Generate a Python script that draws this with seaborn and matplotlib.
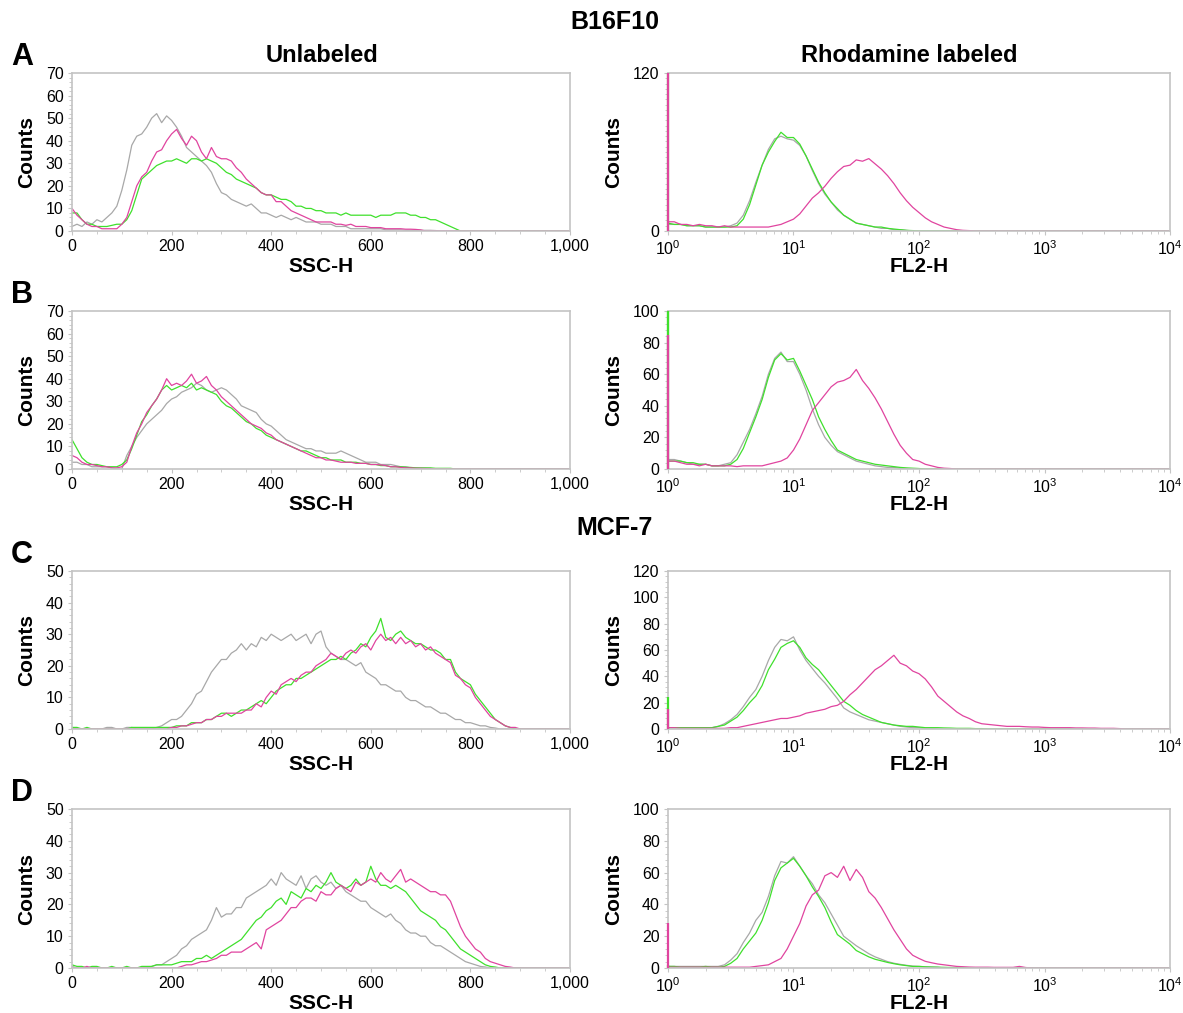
import numpy as np
import matplotlib
matplotlib.use("Agg")
import matplotlib.pyplot as plt
import seaborn as sns
from matplotlib.ticker import FixedLocator, MultipleLocator, FuncFormatter, NullFormatter

# ── Data ─────────────────────────────────────────────────────────────────────

# SSC-H channels, every 10 units from 0 to 1000 (lists stop where counts hit 0)
SSC_STEP = 10
# FL2-H channels, every 0.05 decade from 10^0 to 10^4
FL_STEP = 0.05

a_ssc_grey = [2, 3, 2, 4, 3, 5, 4, 6, 8, 11, 18, 27, 38, 42, 43, 46, 50, 52, 48, 51,
              49, 46, 42, 37, 35, 33, 31, 29, 26, 21, 17, 16, 14, 13, 12, 11, 12, 10, 8, 8,
              7, 6, 7, 6, 5, 6, 5, 4, 4, 4, 3, 3, 3, 2, 2, 2, 1, 1, 1, 1,
              1, 1, 1, 0.5, 0.5, 0.5, 0.5, 0.3, 0.3, 0.3, 0.3, 0.3, 0.3, 0.2, 0]
a_ssc_magenta = [10, 7, 5, 3, 2, 2, 1, 1, 1, 1, 3, 6, 13, 20, 24, 26, 31, 35, 36, 40,
                 43, 45, 41, 38, 42, 40, 35, 32, 37, 33, 32, 32, 31, 28, 26, 23, 21, 19, 17, 16,
                 16, 13, 13, 11, 9, 8, 7, 6, 5, 4, 4, 4, 4, 3, 3, 2.5, 3, 2, 2, 2,
                 1.5, 1.5, 1.5, 1, 1, 1, 1, 0.8, 0.8, 0.7, 0.5, 0]
a_ssc_green = [8, 8, 5, 3, 3, 2, 2, 2, 2.5, 3, 3, 5, 9, 16, 23, 25, 27, 29, 30, 31,
               31, 32, 31, 30, 32, 32, 31, 32, 31, 30, 28, 26, 25, 23, 22, 21, 20, 19, 17, 16,
               16, 15, 14, 14, 13, 11, 11, 10, 10, 9, 9, 8, 8, 8, 7, 8, 7, 7, 7, 7,
               7, 6, 7, 7, 7, 8, 8, 8, 7, 7, 6, 6, 5, 5, 4, 3, 2, 1, 0]

b_ssc_grey = [3, 3, 2, 2, 1, 1, 1, 1, 0.5, 0, 0, 6, 10, 14, 17, 20, 22, 24, 26, 29,
              31, 32, 34, 35, 36, 38, 37, 35, 34, 35, 36, 35, 33, 31, 28, 27, 26, 25, 22, 20,
              19, 17, 15, 13, 12, 11, 10, 9, 9, 8, 8, 7, 7, 7, 8, 7, 6, 5, 4, 3,
              3, 3, 2, 2, 2, 1.5, 1, 1, 0.5, 0.5, 0.3, 0.3, 0.2, 0]
b_ssc_magenta = [6, 5, 3, 2, 2, 1.5, 1, 1, 0.5, 0.5, 1, 3, 10, 16, 20, 25, 28, 31, 35, 40,
                 37, 38, 37, 39, 42, 38, 39, 41, 37, 35, 32, 30, 28, 26, 24, 22, 20, 19, 18, 16,
                 15, 13, 12, 11, 10, 9, 8, 7, 6, 5, 5, 4, 4, 3.5, 3, 3, 3, 2.5, 2.5, 2.5,
                 2, 2, 1.8, 1.5, 1, 1, 0.7, 0.5, 0.5, 0.3, 0.3, 0.2, 0.2, 0]
b_ssc_green = [13, 9, 5, 3, 2, 2, 1.5, 1, 1, 1, 2, 4, 9, 15, 21, 24, 28, 31, 35, 37,
               35, 36, 37, 36, 38, 35, 36, 35, 34, 33, 30, 28, 27, 25, 23, 21, 20, 18, 17, 15,
               14, 13, 12, 11, 10, 9, 8, 8, 7, 6, 5, 5, 4, 4, 4, 3, 3, 3, 2.5, 2.5,
               2, 2, 1.5, 1.5, 1, 1, 1, 0.8, 0.7, 0.5, 0.5, 0.5, 0.5, 0.3, 0.3, 0.3, 0.3, 0]

c_ssc_grey = [0, 0, 0, 0, 0, 0, 0, 0.5, 0.5, 0, 0, 0.5, 0.5, 0, 0, 0, 0, 0.5, 1, 2,
              3, 3, 4, 6, 8, 11, 12, 15, 18, 20, 22, 22, 24, 25, 27, 25, 27, 26, 29, 28,
              30, 29, 28, 29, 30, 28, 29, 30, 27, 30, 31, 26, 24, 23, 22, 22, 21, 20, 21, 18,
              17, 16, 14, 14, 13, 12, 12, 10, 9, 9, 8, 7, 7, 6, 5, 5, 4, 3, 3, 2,
              2, 1.5, 1, 1, 0.5, 0.3, 0]
c_ssc_magenta = [0, 0, 0, 0, 0, 0, 0, 0, 0, 0, 0, 0, 0, 0, 0, 0, 0, 0, 0, 0,
                 0.5, 0.5, 1, 1, 1.5, 2, 2, 3, 3, 4, 4, 5, 5, 5, 5, 6, 6, 8, 7, 10,
                 12, 11, 14, 15, 16, 15, 17, 18, 18, 20, 21, 22, 24, 23, 22, 24, 25, 24, 26, 27,
                 25, 28, 30, 28, 29, 27, 29, 27, 28, 26, 27, 25, 26, 24, 23, 22, 21, 17, 16, 14,
                 13, 10, 8, 6, 4, 3, 2, 1, 0.5, 0.5, 0]
c_ssc_green = [0.5, 0.5, 0, 0.5, 0, 0, 0, 0, 0, 0, 0, 0, 0.5, 0.5, 0.5, 0.5, 0.5, 0.5, 0.5, 0.5,
               0.5, 1, 1, 1, 2, 2, 2, 3, 3, 4, 5, 5, 4, 5, 6, 6, 7, 8, 9, 8,
               10, 12, 13, 14, 14, 16, 16, 17, 18, 19, 20, 21, 22, 22, 23, 22, 24, 25, 27, 26,
               29, 31, 35, 29, 28, 30, 31, 29, 28, 27, 27, 26, 25, 25, 24, 22, 22, 18, 16, 15,
               14, 11, 9, 7, 5, 3, 2, 1, 0.5, 0]

d_ssc_grey = [0.5, 0, 0, 0, 0, 0, 0, 0, 0, 0, 0, 0, 0, 0, 0, 0, 0.5, 1, 1, 2,
              3, 4, 6, 7, 9, 10, 11, 12, 15, 19, 16, 17, 17, 19, 19, 22, 23, 24, 25, 26,
              28, 26, 30, 28, 27, 26, 29, 25, 28, 29, 27, 26, 27, 25, 26, 24, 23, 22, 21, 21,
              19, 18, 17, 16, 17, 15, 14, 12, 11, 11, 10, 10, 8, 7, 7, 6, 5, 4, 3, 2,
              1.5, 1, 0.5, 0.3, 0]
d_ssc_magenta = [0, 0, 0, 0.5, 0, 0, 0, 0, 0, 0, 0, 0, 0, 0, 0, 0, 0, 0, 0, 0,
                 0, 0, 0.5, 1, 1, 1.5, 2, 2, 2.5, 3, 4, 4, 5, 5, 5, 6, 7, 8, 6, 12,
                 13, 14, 15, 17, 19, 19, 21, 22, 22, 21, 24, 23, 23, 25, 26, 25, 24, 27, 26, 27,
                 28, 27, 30, 28, 27, 29, 31, 27, 28, 27, 26, 25, 24, 24, 23, 23, 21, 17, 13, 10,
                 8, 6, 5, 3, 2, 1.5, 1, 0.5, 0.3, 0]
d_ssc_green = [1, 0.5, 0.5, 0, 0.5, 0.5, 0, 0, 0.5, 0, 0, 0.5, 0, 0, 0.5, 0.5, 0.5, 1, 1, 1,
               1, 1.5, 2, 2, 2, 3, 3, 4, 3, 4, 5, 6, 7, 8, 9, 11, 13, 15, 16, 18,
               19, 21, 22, 20, 24, 23, 22, 25, 24, 26, 25, 27, 30, 27, 26, 25, 26, 28, 26, 27,
               32, 28, 26, 26, 25, 26, 25, 24, 22, 20, 18, 17, 16, 15, 13, 12, 10, 8, 6, 5,
               4, 3, 2, 1, 0.5, 0.3, 0]

a_fl_grey = [5, 5, 5, 4, 4, 4, 3, 3, 3, 3, 4, 6, 12, 23, 37, 50, 62, 70, 72, 70,
             69, 65, 57, 46, 36, 28, 22, 16, 12, 9, 6, 5, 4, 3, 2, 2, 1, 1, 0.5, 0]
a_fl_green = [6, 5, 5, 4, 4, 4, 3, 3, 3, 3, 3, 4, 9, 20, 35, 50, 60, 68, 75, 71,
              71, 66, 57, 47, 37, 29, 22, 17, 12, 9, 6, 5, 4, 3, 3, 2, 1.5, 1, 0.5, 0.3, 0]
a_fl_magenta = [7, 7, 5, 5, 4, 5, 4, 4, 3, 4, 3, 3, 3, 3, 3, 3, 3, 4, 5, 7,
                9, 13, 19, 25, 29, 34, 40, 45, 49, 50, 54, 53, 55, 51, 47, 42, 36, 29, 23, 18,
                14, 10, 7, 5, 3, 2, 1, 0.5, 0.3, 0]

b_fl_grey = [6, 6, 5, 4, 3, 3, 3, 2, 2, 3, 4, 9, 17, 25, 35, 46, 60, 70, 74, 68,
             68, 60, 50, 38, 28, 20, 15, 11, 9, 7, 5, 4, 3, 2, 1.5, 1, 1, 0.5, 0.3, 0]
b_fl_green = [5, 5, 5, 4, 4, 3, 3, 2, 2, 2, 3, 6, 13, 23, 33, 44, 58, 69, 73, 69,
              70, 62, 53, 44, 33, 25, 18, 12, 10, 8, 6, 5, 4, 3, 2.5, 2, 1.5, 1, 0.7, 0.5, 0.3, 0]
b_fl_magenta = [5, 5, 4, 3, 3, 2, 3, 2, 2, 2, 2, 1.5, 2, 2, 2, 2, 3, 4, 5, 7,
                12, 19, 28, 37, 42, 47, 52, 55, 56, 58, 63, 56, 51, 45, 38, 30, 22, 15, 10, 6,
                5, 3, 2, 1, 0.5, 0.3, 0]

c_fl_grey = [1, 1, 1, 1, 1, 1, 1, 1, 2, 4, 7, 11, 17, 24, 30, 40, 52, 62, 68, 67,
             70, 60, 52, 46, 40, 35, 29, 23, 16, 13, 11, 9, 7, 6, 5, 4, 3, 2, 1.5, 1,
             1, 0.5, 0.5, 0]
c_fl_green = [1, 1, 1, 1, 1, 1, 1, 1, 2, 3, 6, 9, 14, 20, 25, 33, 45, 53, 62, 65,
              67, 62, 54, 49, 45, 39, 33, 27, 21, 18, 14, 11, 9, 7, 5, 4, 3, 2.5, 2, 2,
              1.5, 1, 1, 1, 0.8, 0.7, 0.5, 0.5, 0.5, 0.3, 0.3, 0]
c_fl_magenta = [1, 1, 0.5, 0.5, 0.5, 0.5, 0.5, 0.5, 0.5, 0.5, 1, 1, 2, 3, 4, 5, 6, 7, 8, 8,
                9, 10, 12, 13, 14, 15, 17, 18, 21, 26, 30, 35, 40, 45, 48, 52, 56, 50, 48, 44,
                42, 38, 32, 25, 21, 17, 13, 10, 8, 5.5, 4, 3.5, 3, 2.5, 2, 2, 2, 1.7, 1.5, 1.5,
                1.2, 1, 1, 1, 1, 0.8, 0.8, 0.7, 0.7, 0.5, 0.5, 0.5, 0.3, 0]

d_fl_grey = [1, 1, 1, 1, 1, 1, 1, 1, 1, 2, 5, 9, 16, 22, 30, 35, 45, 58, 67, 66,
             70, 64, 58, 53, 46, 41, 34, 27, 20, 17, 14, 11.5, 9, 7, 5.5, 4, 3, 2.3, 1.7, 1.2,
             1, 0.8, 0.6, 0.5, 0]
d_fl_green = [1, 1, 0.5, 0.5, 0.5, 0.5, 1, 0.5, 0.5, 1, 3, 6, 12, 17, 22, 30, 41, 55, 63, 66,
              69, 64, 58, 51, 45, 38, 29, 21, 18, 15, 11, 9, 7, 5.5, 4.5, 3.5, 2.7, 2, 1.5, 1,
              1, 0.7, 0.6, 0.5, 0.4, 0.3, 0.3, 0.3, 0]
d_fl_magenta = [0.5, 0.5, 0.5, 0.5, 0.5, 0.5, 0.5, 0.5, 0.5, 0.5, 0.5, 0.5, 0.5, 0.5, 1, 1.5, 2, 4, 6, 12,
                20, 28, 39, 46, 49, 58, 60, 57, 64, 55, 62, 57, 48, 44, 38, 31, 24, 18, 12, 8,
                6, 4.2, 3.3, 2.5, 2, 1.5, 1, 0.8, 0.6, 0.5, 0.5, 0.5, 0.4, 0.4, 0.4, 0.4, 1, 0.3, 0]

# first-channel pile-up at 10^0 (grey, green, magenta), off-scale ones shown at the top
a_fl_spike = [0, 120, 120]
b_fl_spike = [100, 100, 85]
c_fl_spike = [0, 24, 15]
d_fl_spike = [0, 2, 28]

ssc_ylims = [70, 70, 50, 50]
fl_ylims = [120, 100, 120, 100]
fl_yticks = [[0, 120], [0, 20, 40, 60, 80, 100], [0, 20, 40, 60, 80, 100, 120],
             [0, 20, 40, 60, 80, 100]]
row_letters = ["A", "B", "C", "D"]

GREY = "#a8a8a8"
GREEN = "#3fe02c"
MAGENTA = "#e0449f"
SPINE = "#c4c4c4"

# ── Style ────────────────────────────────────────────────────────────────────

sns.set_theme(style="white")
plt.rcParams["font.family"] = ["Liberation Sans", "DejaVu Sans"]
plt.rcParams["text.color"] = "black"
plt.rcParams["axes.labelcolor"] = "black"
plt.rcParams["mathtext.fontset"] = "custom"
plt.rcParams["mathtext.rm"] = "Liberation Sans"
plt.rcParams["mathtext.default"] = "regular"

W, H = 1183, 1013
fig = plt.figure(figsize=(W / 100, H / 100), dpi=100)


def px_axes(x0, x1, top, bottom):
    return fig.add_axes([x0 / W, 1 - bottom / H, (x1 - x0) / W, (bottom - top) / H])


def pad(vals, n):
    vals = np.asarray(vals, dtype=float)
    return np.concatenate([vals, np.zeros(n - len(vals))])


def style_axes(ax):
    for sp in ax.spines.values():
        sp.set_color(SPINE)
        sp.set_linewidth(1.2)
    ax.tick_params(axis="both", which="major", length=3, width=0.8, color=SPINE,
                   pad=3, labelsize=11.5, labelcolor="black", bottom=True, left=True)
    ax.tick_params(axis="both", which="minor", length=2, width=0.6, color=SPINE,
                   bottom=True, left=True)


ssc_x = np.arange(0, 1000 + SSC_STEP, SSC_STEP)
fl_x = 10 ** np.arange(0, 4 + FL_STEP / 2, FL_STEP)

ssc_sets = [(a_ssc_grey, a_ssc_green, a_ssc_magenta),
            (b_ssc_grey, b_ssc_green, b_ssc_magenta),
            (c_ssc_grey, c_ssc_green, c_ssc_magenta),
            (d_ssc_grey, d_ssc_green, d_ssc_magenta)]
fl_sets = [(a_fl_grey, a_fl_green, a_fl_magenta),
           (b_fl_grey, b_fl_green, b_fl_magenta),
           (c_fl_grey, c_fl_green, c_fl_magenta),
           (d_fl_grey, d_fl_green, d_fl_magenta)]
fl_spikes = [a_fl_spike, b_fl_spike, c_fl_spike, d_fl_spike]
colors = [GREY, GREEN, MAGENTA]

rows_px = [(73, 231), (311, 469), (571, 729), (809, 968)]

for i, (top, bottom) in enumerate(rows_px):
    # left: side scatter
    ax = px_axes(72, 570, top, bottom)
    for vals, c in zip(ssc_sets[i], colors):
        sns.lineplot(x=ssc_x, y=pad(vals, len(ssc_x)), color=c, linewidth=0.9,
                     ax=ax, estimator=None, sort=False)
    ax.set_xlim(0, 1000)
    ax.set_ylim(0, ssc_ylims[i])
    ax.xaxis.set_major_locator(MultipleLocator(200))
    ax.xaxis.set_minor_locator(MultipleLocator(50))
    ax.xaxis.set_major_formatter(FuncFormatter(lambda v, p: f"{v:,.0f}"))
    ax.yaxis.set_major_locator(MultipleLocator(10))
    ax.yaxis.set_minor_locator(MultipleLocator(2))
    style_axes(ax)
    ax.set_xlabel("SSC-H", fontsize=15, fontweight="bold", va="center")
    ax.set_ylabel("Counts", fontsize=15, fontweight="bold", va="center")
    ax.xaxis.set_label_coords(0.5, -35 / 158)
    ax.yaxis.set_label_coords(-45 / 498, 0.5)

    # right: FL2 fluorescence
    ax = px_axes(668, 1170, top, bottom)
    ax.set_xscale("log")
    for vals, spike, c in zip(fl_sets[i], fl_spikes[i], colors):
        sns.lineplot(x=fl_x, y=pad(vals, len(fl_x)), color=c, linewidth=0.9,
                     ax=ax, estimator=None, sort=False)
        if spike > 0:
            ax.vlines(fl_x[0], 0, spike, color=c, linewidth=1.6, zorder=3, clip_on=False)
    ax.set_xlim(1, 1e4)
    ax.set_ylim(0, fl_ylims[i])
    ax.xaxis.set_major_locator(FixedLocator([1, 10, 100, 1000, 10000]))
    ax.xaxis.set_major_formatter(FuncFormatter(lambda v, p: f"$10^{{{int(round(np.log10(v)))}}}$"))
    ax.xaxis.set_minor_formatter(NullFormatter())
    ax.yaxis.set_major_locator(FixedLocator(fl_yticks[i]))
    ax.yaxis.set_minor_locator(MultipleLocator(4))
    style_axes(ax)
    ax.set_xlabel("FL2-H", fontsize=15, fontweight="bold", va="center")
    ax.set_ylabel("Counts", fontsize=15, fontweight="bold", va="center")
    ax.xaxis.set_label_coords(0.5, -35 / 158)
    ax.yaxis.set_label_coords(-54 / 502, 0.5)

    fig.text(22 / W, 1 - (rows_px[i][0] - 16) / H, row_letters[i], fontsize=22,
             fontweight="bold", ha="center", va="center")

fig.text(615 / W, 1 - 22 / H, "B16F10", fontsize=18, fontweight="bold", ha="center", va="center")
fig.text(615 / W, 1 - 528 / H, "MCF-7", fontsize=18, fontweight="bold", ha="center", va="center")
fig.text(322 / W, 1 - 55 / H, "Unlabeled", fontsize=17, fontweight="bold", ha="center", va="center")
fig.text(909 / W, 1 - 55 / H, "Rhodamine labeled", fontsize=17, fontweight="bold",
         ha="center", va="center")

fig.savefig("out.png", dpi=100, facecolor="white")
